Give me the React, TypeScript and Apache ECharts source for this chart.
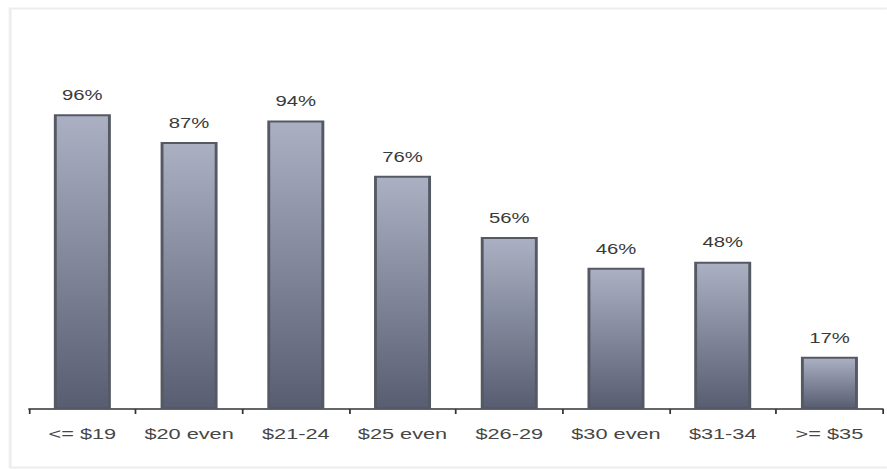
import React, { useEffect, useRef } from "react";
import * as echarts from "echarts";

const categories = ["<= $19", "$20 even", "$21-24", "$25 even", "$26-29", "$30 even", "$31-34", ">= $35"];
const values = [96, 87, 94, 76, 56, 46, 48, 17];

// The reference picture is stretched horizontally; we draw a narrower chart and stretch it the same way.
const STRETCH = 1.449;
const W = 887 / STRETCH;
const H = 469;

export default function App() {
  const ref = useRef<HTMLDivElement>(null);
  useEffect(() => {
    document.body.style.margin = "0";
    document.body.style.overflow = "hidden";
    const chart = echarts.init(ref.current!, null, { renderer: "svg" });
    chart.setOption({
      animation: false,
      backgroundColor: "#ffffff",
      graphic: [
        {
          type: "rect",
          shape: { x: 7, y: 8.5, width: W, height: 459 },
          style: { fill: "none", stroke: "#ededed", lineWidth: 2 },
          silent: true,
          z: -1,
        },
      ],
      grid: { left: 29 / STRETCH, right: 4 / STRETCH, top: 102, bottom: 60 },
      xAxis: {
        type: "category",
        data: categories,
        boundaryGap: true,
        axisLine: { lineStyle: { color: "#333333", width: 1.5 } },
        axisTick: { show: true, alignWithLabel: false, length: 5, lineStyle: { color: "#333333", width: 1.2 } },
        axisLabel: {
          color: "#464646",
          fontFamily: "Liberation Sans, Arial, sans-serif",
          fontSize: 15,
          margin: 17,
          interval: 0,
        },
      },
      yAxis: {
        type: "value",
        min: 0,
        max: 100,
        show: false,
        splitLine: { show: false },
      },
      series: [
        {
          type: "bar",
          data: values,
          barWidth: 57 / STRETCH,
          itemStyle: {
            color: new echarts.graphic.LinearGradient(0, 0, 0, 1, [
              { offset: 0, color: "#abb1c3" },
              { offset: 1, color: "#585d71" },
            ]),
            borderColor: "#555963",
            borderWidth: 2,
          },
          label: {
            show: true,
            position: "top",
            distance: 12,
            formatter: "{c}%",
            color: "#3a3a3a",
            fontFamily: "Liberation Sans, Arial, sans-serif",
            fontSize: 14,
          },
        },
      ],
    });
    return () => chart.dispose();
  }, []);
  return (
    <div style={{ width: 887, height: H, overflow: "hidden" }}>
      <div
        ref={ref}
        style={{ width: W, height: H, transform: `scaleX(${STRETCH})`, transformOrigin: "0 0" }}
      />
    </div>
  );
}
